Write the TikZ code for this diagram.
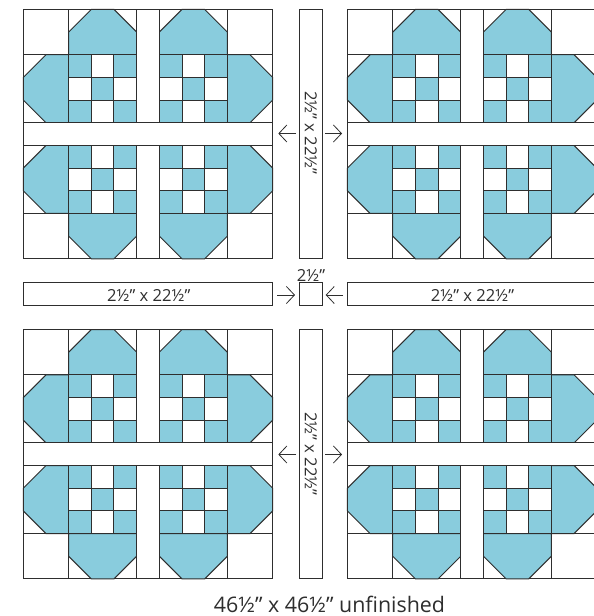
\documentclass[tikz,border=0pt]{standalone}
\usepackage{fontspec}
\setmainfont{Open Sans}
\usetikzlibrary{arrows.meta}
\definecolor{quiltblue}{HTML}{89CCDD}
\definecolor{quiltline}{HTML}{2E2E2E}
\tikzset{
  seam/.style={draw=quiltline,line width=1pt,line join=miter},
  patchblue/.style={seam,fill=quiltblue},
  patchwhite/.style={seam,fill=white},
  strip/.style={draw=quiltline,line width=1pt,fill=white,inner sep=0pt,outer sep=0pt},
  pointer/.style={draw=quiltline,line width=0.8pt,-{Straight Barb[length=8pt,width=17pt,line width=0.8pt]}},
  dimtext/.style={font=\fontsize{16.6}{18}\selectfont,text=quiltline,inner sep=0pt},
}
\newcommand{\quiltblock}[2]{%
  \begin{scope}[shift={(#1pt,-#2pt)},x=11.336pt,y=-11.336pt]
    \foreach \a/\b in {0/0,18/0,0/18,18/18}
      \path[patchwhite] (\a,\b) rectangle ++(4,4);
    \foreach \a in {4,12}{
      \path[patchwhite] (\a,0) rectangle ++(6,4);
      \path[patchwhite] (\a,18) rectangle ++(6,4);
      \path[patchblue] (\a,4) -- (\a,2) -- ++(2,-2) -- ++(2,0) -- ++(2,2) -- ++(0,2) -- cycle;
      \path[patchblue] (\a,18) -- (\a,20) -- ++(2,2) -- ++(2,0) -- ++(2,-2) -- ++(0,-2) -- cycle;
    }
    \foreach \b in {4,12}{
      \path[patchwhite] (0,\b) rectangle ++(4,6);
      \path[patchwhite] (18,\b) rectangle ++(4,6);
      \path[patchblue] (4,\b) -- (2,\b) -- ++(-2,2) -- ++(0,2) -- ++(2,2) -- ++(2,0) -- cycle;
      \path[patchblue] (18,\b) -- (20,\b) -- ++(2,2) -- ++(0,2) -- ++(-2,2) -- ++(-2,0) -- cycle;
    }
    \foreach \a in {4,12}\foreach \b in {4,12}{
      \foreach \i in {0,1,2}\foreach \j in {0,1,2}{
        \pgfmathparse{int(mod(\i+\j,2))}
        \ifnum\pgfmathresult=0
          \path[patchblue] ({\a+2*\i},{\b+2*\j}) rectangle ++(2,2);
        \else
          \path[patchwhite] ({\a+2*\i},{\b+2*\j}) rectangle ++(2,2);
        \fi
      }
    }
    \path[patchwhite] (10,0) rectangle (12,10);
    \path[patchwhite] (10,12) rectangle (12,22);
    \path[patchwhite] (0,10) rectangle (22,12);
  \end{scope}%
}
\begin{document}
\begin{tikzpicture}[x=1pt,y=-1pt]
  \useasboundingbox (0,0) rectangle (594,616);
  \clip (0,0) rectangle (594,616);
  \quiltblock{23.3}{9.4}
  \quiltblock{347.4}{9.4}
  \quiltblock{23.3}{329.5}
  \quiltblock{347.4}{329.5}

  \node[strip,minimum width=23pt,minimum height=249.4pt] (vtop) at (311,134.1) {};
  \node[strip,minimum width=23pt,minimum height=249.4pt] (vbot) at (311,454.2) {};
  \node[strip,minimum width=249.4pt,minimum height=23pt] (hleft) at (148,294.4) {};
  \node[strip,minimum width=249.4pt,minimum height=23pt] (hright) at (472.1,294.4) {};
  \node[strip,minimum width=23pt,minimum height=23pt] (centre) at (311,294.4) {};

  \node[dimtext,rotate=-90] (vtoplabel) at (311,133) {2½" x 22½"};
  \node[dimtext,rotate=-90] (vbotlabel) at (311,454) {2½" x 22½"};
  \node[dimtext] (hleftlabel) at (148.8,295) {2½" x 22½"};
  \node[dimtext] (hrightlabel) at (472.5,295) {2½" x 22½"};
  \node[dimtext] (centrelabel) at (311,275) {2½"};
  \node[font=\fontsize{21.4}{24}\selectfont,text=quiltline,inner sep=0pt] (total) at (329.5,604) {46½" x 46½" unfinished};

  \coordinate (a1s) at (296,133.5); \coordinate (a1e) at (278.3,133.5);
  \coordinate (a2s) at (325,133.5); \coordinate (a2e) at (342,133.5);
  \coordinate (a3s) at (296,454.5); \coordinate (a3e) at (278.3,454.5);
  \coordinate (a4s) at (325,454.5); \coordinate (a4e) at (342,454.5);
  \coordinate (a5s) at (277.3,295); \coordinate (a5e) at (295,295);
  \coordinate (a6s) at (343,295); \coordinate (a6e) at (325.7,295);
  \foreach \n in {1,...,6} \draw[pointer] (a\n s) -- (a\n e);
\end{tikzpicture}
\end{document}
